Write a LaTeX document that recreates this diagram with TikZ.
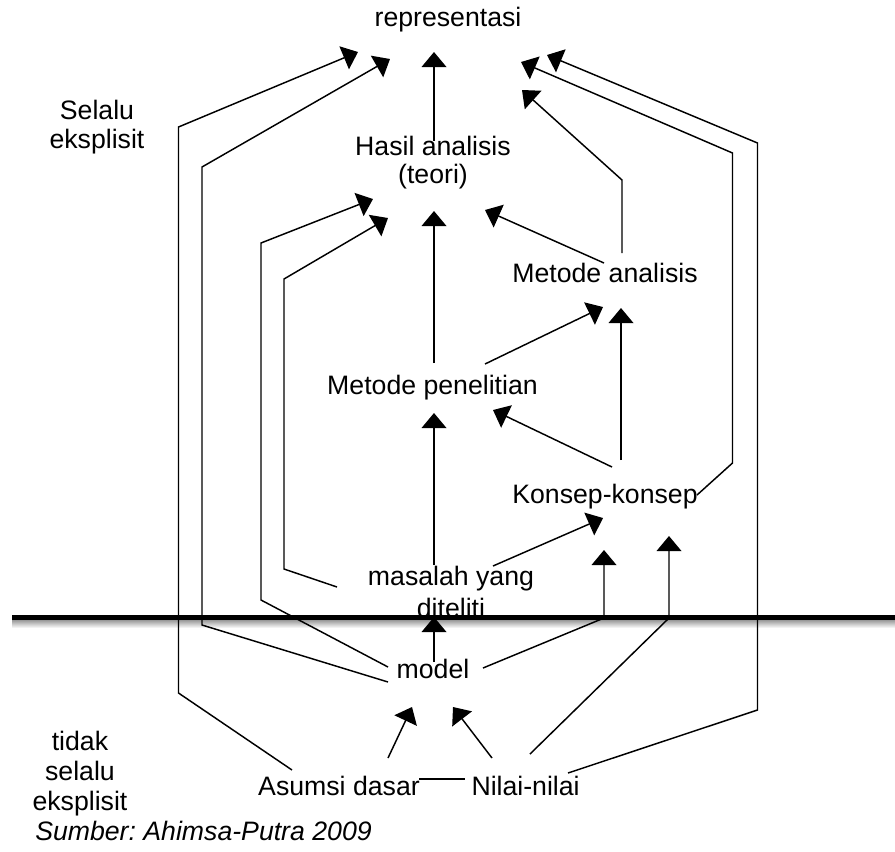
\documentclass[tikz,border=0pt]{standalone}
\usepackage{fontspec}
\setmainfont{Liberation Sans}
\usetikzlibrary{arrows.meta}
\frenchspacing
\begin{document}
\begin{tikzpicture}[x=0.75pt,y=-0.75pt,
  lbl/.style={inner sep=0pt, font=\fontsize{20}{21}\selectfont, anchor=base},
  arr/.style={line width=1.1pt, -{Triangle[length=11.25pt,width=18.5pt]}},
  ln/.style={line width=1.1pt}]
\useasboundingbox (0,0) rectangle (895,851);

% texts
\node[lbl] (repr) at (448,26) {representasi};
\node[lbl, align=center, font=\fontsize{20}{21.5}\selectfont] (selalu) at (97,148) {Selalu\\eksplisit};
\node[lbl, align=center, font=\fontsize{20}{21}\selectfont] (hasil) at (433,183) {Hasil analisis\\(teori)};
\node[lbl] (metan) at (605,282) {Metode analisis};
\node[lbl] (metpen) at (432.5,394) {Metode penelitian};
\node[lbl] (konsep) at (605,503) {Konsep-konsep};
\node[lbl, align=center, font=\fontsize{20}{24}\selectfont] (masalah) at (451,617) {masalah yang\\diteliti};
\node[lbl] (model) at (433,678) {model};
\node[lbl] (asumsi) at (339,795) {Asumsi dasar};
\node[lbl] (nilai) at (525.6,795) {Nilai-nilai};
\node[lbl, align=center, font=\fontsize{20}{22.5}\selectfont] (tidak) at (80,810) {tidak\\selalu\\eksplisit};
\node[lbl, anchor=base west, font=\fontsize{20}{21}\selectfont\itshape] (sumber) at (35,840) {Sumber: Ahimsa-Putra 2009};

% shadow of the dividing bar
\shade[top color=black!45, bottom color=white] (12,619) rectangle (895,628);

% coordinates
\coordinate (a1s) at (292,770);  \coordinate (a1b) at (178.5,693); \coordinate (a1c) at (178.5,127); \coordinate (a1t) at (358,52);
\coordinate (a2s) at (388,682);  \coordinate (a2b) at (202,625);   \coordinate (a2c) at (202,167);   \coordinate (a2t) at (390,59);
\coordinate (a3s) at (388,667);  \coordinate (a3b) at (261,600);   \coordinate (a3c) at (261,243);   \coordinate (a3t) at (373,199);
\coordinate (a4s) at (337,587);  \coordinate (a4b) at (284,569);   \coordinate (a4c) at (284,279);   \coordinate (a4t) at (388,218);
\coordinate (a5s) at (434,141);  \coordinate (a5t) at (434,52);
\coordinate (a6s) at (434,363);  \coordinate (a6t) at (434,211);
\coordinate (a7s) at (604,263);  \coordinate (a7t) at (485,210);
\coordinate (a8s) at (622,253);  \coordinate (a8b) at (622,180);   \coordinate (a8t) at (522,90);
\coordinate (a9s) at (697,495);  \coordinate (a9b) at (732.5,463); \coordinate (a9c) at (732.5,153); \coordinate (a9t) at (521,62);
\coordinate (a10s) at (568,773); \coordinate (a10b) at (757.5,710); \coordinate (a10c) at (757.5,143); \coordinate (a10t) at (547,55);
\coordinate (a11s) at (485,364); \coordinate (a11t) at (603,307);
\coordinate (a12s) at (621,460); \coordinate (a12t) at (621,308);
\coordinate (a13s) at (612,467); \coordinate (a13t) at (493,410);
\coordinate (a14s) at (434,565); \coordinate (a14t) at (434,413);
\coordinate (a15s) at (493,566); \coordinate (a15t) at (603,518);
\coordinate (a16s) at (434,662); \coordinate (a16t) at (434,617);
\coordinate (a17s) at (483,668); \coordinate (a17b) at (604,618); \coordinate (a17t) at (604,550);
\coordinate (a18s) at (530,754); \coordinate (a18b) at (669,618); \coordinate (a18t) at (669,536);
\coordinate (a19s) at (388,758); \coordinate (a19t) at (412,707);
\coordinate (a20s) at (492,758); \coordinate (a20t) at (453,707);
\coordinate (a21s) at (419,779); \coordinate (a21t) at (465,779);

% connectors
\draw[arr] (a1s) -- (a1b) -- (a1c) -- (a1t);
\draw[arr] (a2s) -- (a2b) -- (a2c) -- (a2t);
\draw[arr] (a3s) -- (a3b) -- (a3c) -- (a3t);
\draw[arr] (a4s) -- (a4b) -- (a4c) -- (a4t);
\draw[arr] (a5s) -- (a5t);
\draw[arr] (a6s) -- (a6t);
\draw[arr] (a7s) -- (a7t);
\draw[arr] (a8s) -- (a8b) -- (a8t);
\draw[arr] (a9s) -- (a9b) -- (a9c) -- (a9t);
\draw[arr] (a10s) -- (a10b) -- (a10c) -- (a10t);
\draw[arr] (a11s) -- (a11t);
\draw[arr] (a12s) -- (a12t);
\draw[arr] (a13s) -- (a13t);
\draw[arr] (a14s) -- (a14t);
\draw[arr] (a15s) -- (a15t);
\draw[arr] (a17s) -- (a17b) -- (a17t);
\draw[arr] (a18s) -- (a18b) -- (a18t);
\draw[arr] (a19s) -- (a19t);
\draw[arr] (a20s) -- (a20t);
\draw[ln] (a21s) -- (a21t);

% dividing bar
\coordinate (barL) at (12,617); \coordinate (barR) at (895,617);
\draw[line width=3.75pt] (barL) -- (barR);
\draw[arr] (a16s) -- (a16t);
\end{tikzpicture}
\end{document}
